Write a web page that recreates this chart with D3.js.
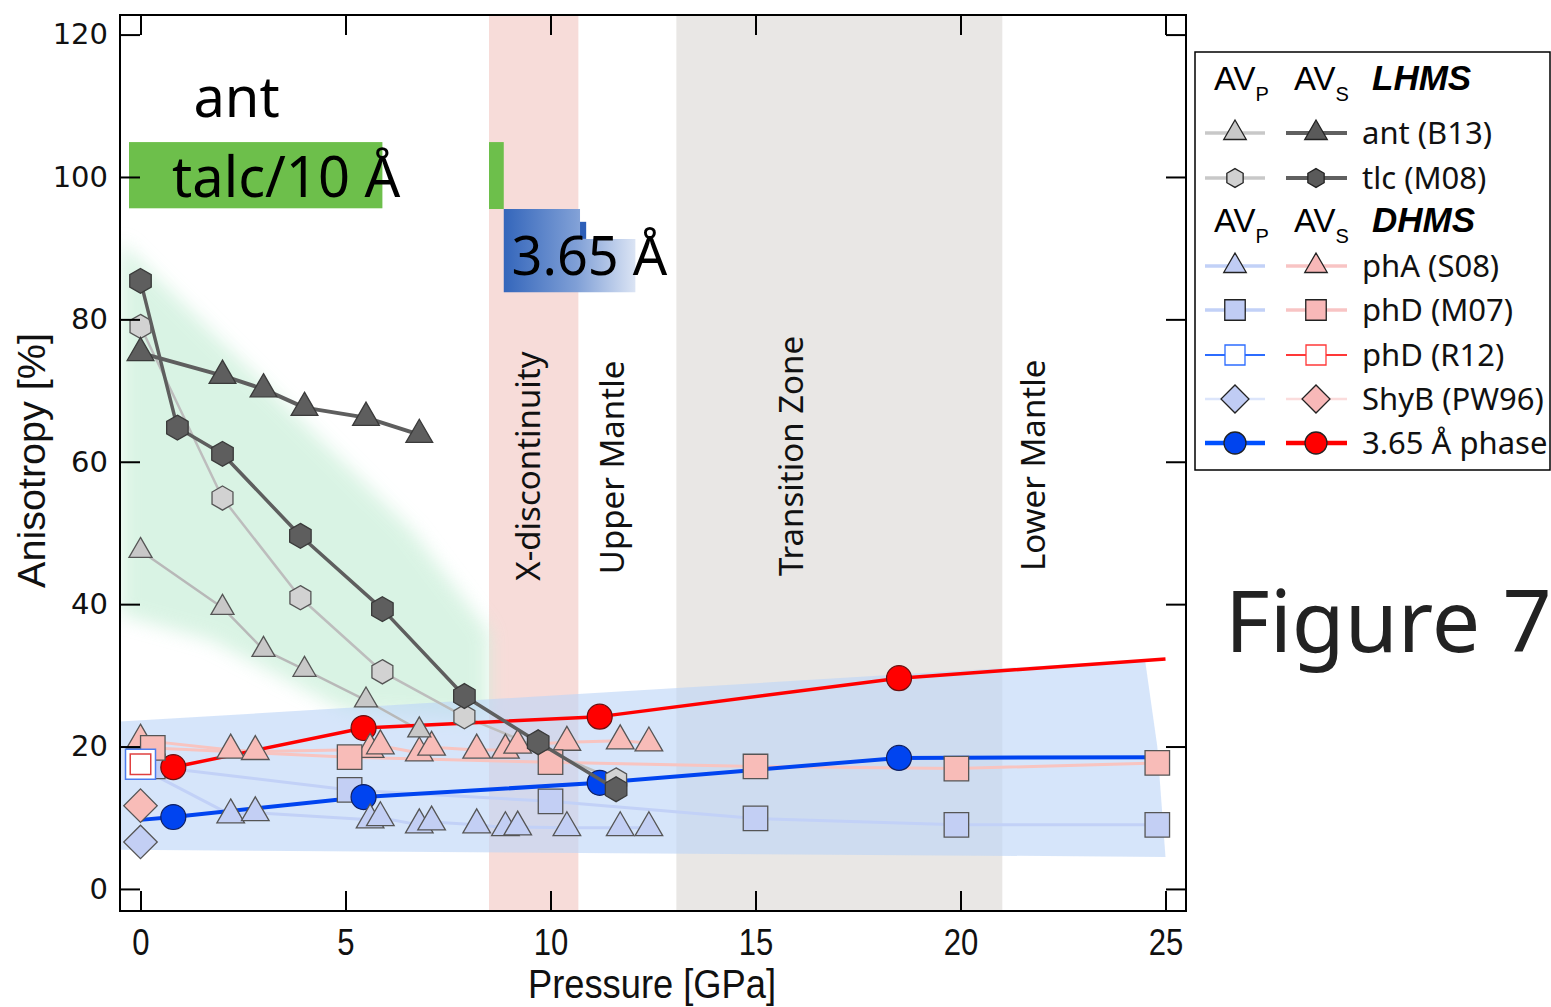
<!DOCTYPE html>
<html>
<head>
<meta charset="utf-8">
<script src="https://cdn.jsdelivr.net/npm/d3@7"></script>
<style>
  body { margin: 0; background: #fff; }
  svg { display: block; }
</style>
</head>
<body>
<div class="chart"></div>
<script>

const FRAME_WIDTH = 1551;
const FRAME_HEIGHT = 1007;
const PLOT = {left: 120, right: 1186, top: 15, bottom: 911};

// ---- data (pressure in GPa, anisotropy in %) ----
const X_TICKS = [0, 5, 10, 15, 20, 25];
const Y_TICKS = [0, 20, 40, 60, 80, 100, 120];

// LHMS
const ANT_P   = [0, 2, 3, 4, 5.5, 6.8];
const ANT_AVP = [47.5, 39.5, 33.6, 30.8, 26.5, 22.3];
const ANT_AVS = [75.3, 72.1, 70.2, 67.6, 66.2, 63.8];
const TLC_P   = [0, 0.9, 2, 3.9, 5.9, 7.9, 9.7, 11.6];
const TLC_AVS = [85.4, 64.8, 61.1, 49.6, 39.3, 27.1, 20.6, 14.0];
const TLC_AVP_P = [0, 2, 3.9, 5.9, 7.9, 11.6];
const TLC_AVP   = [79.0, 54.9, 40.9, 30.5, 24.2, 15.3];

// DHMS
const PHA_P   = [0, 2.2, 2.8, 5.6, 5.85, 6.8, 7.1, 8.2, 8.9, 9.2, 10.4, 11.7, 12.4];
const PHA_AVS = [20.9, 19.5, 19.3, 19.6, 20.1, 19.1, 19.9, 19.5, 19.5, 20.2, 20.6, 20.8, 20.5];
const PHA_AVP = [17.0, 10.4, 10.7, 9.7, 10.0, 9.0, 9.4, 9.0, 8.6, 8.7, 8.6, 8.6, 8.6];
const PHD_P   = [0.3, 5.1, 10, 15, 19.9, 24.8];
const PHD_AVS = [19.8, 18.5, 17.8, 17.2, 16.9, 17.7];
const PHD_AVP = [17.2, 13.9, 12.3, 9.9, 9.0, 9.0];
const R12_P = [0], R12_AVP = [17.5], R12_AVS = [17.5];
const SHYB_P = [0], SHYB_AVP = [6.6], SHYB_AVS = [11.7];
const A365_P   = [0.8, 5.44, 11.2, 18.5];
const A365_AVS = [17.1, 22.6, 24.2, 29.6];
const A365_AVP = [10.1, 12.9, 14.9, 18.4];
const FIT_P   = [0, 0.8, 5.44, 11.2, 18.5, 25];
const FIT_AVS = [16.3, 17.1, 22.6, 24.2, 29.6, 32.3];
const FIT_AVP = [9.7, 10.1, 12.9, 14.9, 18.4, 18.5];

// shaded fields
const GREEN_P = [-0.5, 6.6, 8.5, 8.5, 5.0, 1.7, -0.5];
const GREEN_A = [91, 50.5, 36, 23.5, 25, 35, 38.5];
const BLUE_P = [-0.5, 24.5, 24.8, 25, -0.5];
const BLUE_A = [23.5, 32.2, 20, 4.5, 5.5];
// depth regions
const BANDS = [
  {name: "X-discontinuity", from: 8.5, to: 10.68, color: "#f7dcd9"},
  {name: "Transition Zone", from: 13.07, to: 21.02, color: "#e9e7e5"}
];
const REGION_LABELS = ["X-discontinuity", "Upper Mantle", "Transition Zone", "Lower Mantle"];
const REGION_LABEL_P = [9.75, 11.8, 16.15, 22.05];
const REGION_LABEL_A = [59.4, 59.2, 60.8, 59.5];

const zip = (xs, ys) => xs.map((x, i) => ({p: x, a: ys[i]}));

const SVG = d3.select(".chart").append("svg")
  .attr("width", FRAME_WIDTH)
  .attr("height", FRAME_HEIGHT);

const X_SCALE = d3.scaleLinear().domain([-0.5, 25.5]).range([PLOT.left, PLOT.right]);
const Y_SCALE = d3.scaleLinear().domain([-3.1, 122.75]).range([PLOT.bottom, PLOT.top]);

const defs = SVG.append("defs");
defs.append("filter").attr("id", "soft")
  .attr("x", "-20%").attr("y", "-20%").attr("width", "140%").attr("height", "140%")
  .append("feGaussianBlur").attr("stdDeviation", 9);
const grad = defs.append("linearGradient").attr("id", "bluegrad");
grad.append("stop").attr("offset", "0%").attr("stop-color", "#3466bb");
grad.append("stop").attr("offset", "55%").attr("stop-color", "#7f9fd6");
grad.append("stop").attr("offset", "100%").attr("stop-color", "#dbe4f4");
defs.append("clipPath").attr("id", "plotclip").append("rect")
  .attr("x", PLOT.left).attr("y", PLOT.top)
  .attr("width", PLOT.right - PLOT.left).attr("height", PLOT.bottom - PLOT.top);

const plot = SVG.append("g").attr("clip-path", "url(#plotclip)");

// bands
plot.selectAll(".band").data(BANDS).enter().append("rect")
  .attr("x", d => X_SCALE(d.from))
  .attr("width", d => X_SCALE(d.to) - X_SCALE(d.from))
  .attr("y", PLOT.top).attr("height", PLOT.bottom - PLOT.top)
  .attr("fill", d => d.color);

const area = d3.line().x(d => X_SCALE(d.p)).y(d => Y_SCALE(d.a));

plot.append("path")
  .attr("d", area(zip(GREEN_P, GREEN_A)) + "Z")
  .attr("fill", "#cdf0db").attr("opacity", 0.75)
  .attr("filter", "url(#soft)");

plot.append("path")
  .attr("d", area(zip(BLUE_P, BLUE_A)) + "Z")
  .attr("fill", "#bdd5f7").attr("opacity", 0.62);

// region labels
REGION_LABELS.forEach((t, i) => {
  plot.append("text")
    .attr("transform", "translate(" + X_SCALE(REGION_LABEL_P[i]) + "," + Y_SCALE(REGION_LABEL_A[i]) + ") rotate(-90)")
    .attr("text-anchor", "middle")
    .attr("font-family", "Noto Sans, Open Sans, sans-serif")
    .attr("font-size", 33)
    .attr("fill", "#111")
    .text(t);
});

// annotation boxes
plot.append("rect")
  .attr("x", X_SCALE(-0.28)).attr("y", Y_SCALE(104.9))
  .attr("width", X_SCALE(5.9) - X_SCALE(-0.28)).attr("height", Y_SCALE(95.6) - Y_SCALE(104.9))
  .attr("fill", "#6dbf4b");
plot.append("rect")
  .attr("x", X_SCALE(8.5)).attr("y", Y_SCALE(104.9))
  .attr("width", X_SCALE(8.86) - X_SCALE(8.5)).attr("height", Y_SCALE(95.5) - Y_SCALE(104.9))
  .attr("fill", "#6dbf4b");
plot.append("path")
  .attr("d", area(zip([8.86, 10.72, 10.72, 12.07, 12.07, 8.86], [95.5, 95.5, 91.3, 91.3, 83.8, 83.8])) + "Z")
  .attr("fill", "url(#bluegrad)");
plot.append("rect")
  .attr("x", X_SCALE(10.72)).attr("y", Y_SCALE(93.7))
  .attr("width", X_SCALE(10.87) - X_SCALE(10.72)).attr("height", Y_SCALE(91.3) - Y_SCALE(93.7))
  .attr("fill", "#2d5fb8");

const bigText = (txt, p, a) => SVG.append("text")
  .attr("x", X_SCALE(p)).attr("y", Y_SCALE(a))
  .attr("font-family", "Noto Sans, Open Sans, sans-serif")
  .attr("font-size", 56).attr("fill", "#000").text(txt);
bigText("ant", 1.29, 108.4);
bigText("talc/10 Å", 0.77, 97.2);
SVG.append("text")
  .attr("x", X_SCALE(9.05)).attr("y", Y_SCALE(86.2))
  .attr("font-family", "Noto Sans, Open Sans, sans-serif")
  .attr("font-size", 54).attr("fill", "#000").text("3.65 Å");

// ---- markers ----
const HEX = {
  draw(ctx, size) {
    const r = Math.sqrt(size * 2 / (3 * Math.sqrt(3)));
    ctx.moveTo(0, -r);
    for (let i = 1; i < 6; i++) {
      const ang = -Math.PI / 2 + i * Math.PI / 3;
      ctx.lineTo(r * Math.cos(ang), r * Math.sin(ang));
    }
    ctx.closePath();
  }
};
const SHAPES = {
  tri: d3.symbolTriangle, sq: d3.symbolSquare, circ: d3.symbolCircle,
  hex: HEX, dia: d3.symbolSquare
};

function drawLine(g, ps, as, color, width) {
  g.append("path")
    .attr("d", area(zip(ps, as)))
    .attr("fill", "none").attr("stroke", color)
    .attr("stroke-width", width).attr("stroke-linejoin", "round");
}
function drawMarks(g, ps, as, shape, size, fill, stroke, sw) {
  g.selectAll(null).data(zip(ps, as)).enter().append("path")
    .attr("d", d3.symbol().type(SHAPES[shape]).size(size))
    .attr("transform", d => "translate(" + X_SCALE(d.p) + "," + Y_SCALE(d.a) + ")" + (shape === "dia" ? " rotate(45)" : ""))
    .attr("fill", fill).attr("stroke", stroke).attr("stroke-width", sw || 1.3);
}

const C = {
  triLt: "#c8c8c8", hexLt: "#d2d2d2",
  ltBlue: "#c3cff4", ltPink: "#f8bcb8", lineBlue: "#c2d1f7", linePink: "#f8c4c0",
  blue: "#0044f0", red: "#ff0000", dkGray: "#5e5e5e", edge: "#555"
};

// lines
drawLine(plot, PHA_P, PHA_AVP, C.lineBlue, 3);
drawLine(plot, PHD_P, PHD_AVP, C.lineBlue, 3);
drawLine(plot, PHA_P, PHA_AVS, C.linePink, 3);
drawLine(plot, PHD_P, PHD_AVS, C.linePink, 3);
drawLine(plot, ANT_P, ANT_AVP, "#b8b8b8", 2.5);
drawLine(plot, TLC_AVP_P, TLC_AVP, "#bdbdbd", 2.5);
drawLine(plot, FIT_P, FIT_AVS, C.red, 3.5);
drawLine(plot, FIT_P, FIT_AVP, C.blue, 4);

// markers
drawMarks(plot, PHD_P, PHD_AVP, "sq", 600, C.ltBlue, C.edge);
drawMarks(plot, A365_P, A365_AVS, "circ", 490, C.red, "#6a1010", 1.2);
drawMarks(plot, A365_P, A365_AVP, "circ", 490, C.blue, "#102060", 1.2);
drawMarks(plot, PHA_P, PHA_AVP, "tri", 330, C.ltBlue, C.edge);
drawMarks(plot, PHA_P, PHA_AVS, "tri", 330, C.ltPink, C.edge);
drawMarks(plot, PHD_P, PHD_AVS, "sq", 600, C.ltPink, C.edge);
drawMarks(plot, R12_P, R12_AVP, "sq", 900, "#fff", "#4c7df0", 1.5);
drawMarks(plot, R12_P, R12_AVS, "sq", 420, "#fff", "#e04040", 1.5);
drawMarks(plot, SHYB_P, SHYB_AVP, "dia", 560, C.ltBlue, C.edge);
drawMarks(plot, SHYB_P, SHYB_AVS, "dia", 560, C.ltPink, C.edge);
drawMarks(plot, ANT_P, ANT_AVP, "tri", 230, C.triLt, C.edge);
drawMarks(plot, TLC_AVP_P, TLC_AVP, "hex", 380, C.hexLt, C.edge);
drawLine(plot, ANT_P, ANT_AVS, C.dkGray, 4);
drawLine(plot, TLC_P, TLC_AVS, C.dkGray, 3.5);
drawMarks(plot, ANT_P, ANT_AVS, "tri", 310, C.dkGray, "#3a3a3a");
drawMarks(plot, TLC_P, TLC_AVS, "hex", 400, C.dkGray, "#3a3a3a");

// ---- axes ----
const axisStyle = g => {
  g.select(".domain").remove();
  g.selectAll(".tick line").attr("stroke", "#000").attr("stroke-width", 2);
};
SVG.append("g")
  .attr("transform", "translate(" + PLOT.left + ",0)")
  .call(d3.axisLeft(Y_SCALE).tickValues(Y_TICKS).tickSize(-20).tickPadding(12))
  .call(axisStyle)
  .selectAll("text")
    .attr("font-family", "DejaVu Sans, sans-serif")
    .attr("font-size", 29).attr("fill", "#111");
SVG.append("g")
  .attr("transform", "translate(" + PLOT.right + ",0)")
  .call(d3.axisRight(Y_SCALE).tickValues(Y_TICKS).tickSize(-20).tickFormat(""))
  .call(axisStyle);
SVG.append("g")
  .attr("transform", "translate(0," + PLOT.top + ")")
  .call(d3.axisTop(X_SCALE).tickValues(X_TICKS).tickSize(-20).tickFormat(""))
  .call(axisStyle);
SVG.append("g")
  .attr("transform", "translate(0," + PLOT.bottom + ")")
  .call(d3.axisBottom(X_SCALE).tickValues(X_TICKS).tickSize(-20).tickPadding(18))
  .call(axisStyle)
  .selectAll("text")
    .attr("font-family", "Liberation Sans, Arial, sans-serif")
    .attr("font-size", 37).attr("fill", "#111")
    .attr("transform", "scale(0.84,1)");

SVG.append("rect")
  .attr("x", PLOT.left).attr("y", PLOT.top)
  .attr("width", PLOT.right - PLOT.left).attr("height", PLOT.bottom - PLOT.top)
  .attr("fill", "none").attr("stroke", "#000").attr("stroke-width", 2);

SVG.append("text")
  .attr("x", 528).attr("y", 998)
  .attr("font-family", "Liberation Sans, Arial, sans-serif")
  .attr("font-size", 40).attr("fill", "#111")
  .attr("textLength", 248).attr("lengthAdjust", "spacingAndGlyphs")
  .text("Pressure [GPa]");
SVG.append("text")
  .attr("transform", "translate(45,588) rotate(-90)")
  .attr("font-family", "Liberation Sans, Arial, sans-serif")
  .attr("font-size", 38).attr("fill", "#111")
  .attr("textLength", 255).attr("lengthAdjust", "spacingAndGlyphs")
  .text("Anisotropy [%]");

// ---- legend ----
const LEG = SVG.append("g");
LEG.append("rect")
  .attr("x", 1195).attr("y", 52).attr("width", 355).attr("height", 418)
  .attr("fill", "#fff").attr("stroke", "#000").attr("stroke-width", 1.5);

function header(yb, title) {
  [["AV", "P", 1214], ["AV", "S", 1294]].forEach(h => {
    const t = LEG.append("text").attr("x", h[2]).attr("y", yb)
      .attr("font-family", "Liberation Sans, Arial, sans-serif")
      .attr("font-size", 33).attr("fill", "#000").text(h[0]);
    t.append("tspan").attr("dy", 11).attr("font-size", 20).text(h[1]);
  });
  LEG.append("text").attr("x", 1372).attr("y", yb)
    .attr("font-family", "Liberation Sans, Arial, sans-serif")
    .attr("font-size", 35).attr("font-weight", "bold").attr("font-style", "italic")
    .attr("fill", "#000").text(title);
}
header(90, "LHMS");
header(232, "DHMS");

const LEG_ROWS = [
  {y: 133, label: "ant (B13)", shape: "tri", size: 220,
   p: {line: "#c8c8c8", lw: 3.5, fill: "#c8c8c8"}, s: {line: "#606060", lw: 4, fill: "#5a5a5a"}},
  {y: 178, label: "tlc (M08)", shape: "hex", size: 230,
   p: {line: "#c8c8c8", lw: 3.5, fill: "#d0d0d0"}, s: {line: "#606060", lw: 4, fill: "#5a5a5a"}},
  {y: 266, label: "phA (S08)", shape: "tri", size: 220,
   p: {line: "#c2d1f7", lw: 3.5, fill: "#c0ccf4"}, s: {line: "#f8c4c4", lw: 3.5, fill: "#f8b8b8"}},
  {y: 310, label: "phD (M07)", shape: "sq", size: 420,
   p: {line: "#c2d1f7", lw: 3.5, fill: "#c0ccf4"}, s: {line: "#f8c4c4", lw: 3.5, fill: "#f8b8b8"}},
  {y: 355, label: "phD (R12)", shape: "sq", size: 400,
   p: {line: "#2c6cff", lw: 2, fill: "#fff", stroke: "#2c6cff"}, s: {line: "#ff3838", lw: 2, fill: "#fff", stroke: "#ff3838"}},
  {y: 399, label: "ShyB (PW96)", shape: "dia", size: 390,
   p: {line: "#dce5fb", lw: 2.5, fill: "#c0ccf4"}, s: {line: "#fbdcdc", lw: 2.5, fill: "#f8b8b8"}},
  {y: 443, label: "3.65 Å phase", shape: "circ", size: 380,
   p: {line: "#0050ff", lw: 4.5, fill: "#0044ee"}, s: {line: "#ff0000", lw: 4.5, fill: "#ff0000"}}
];
LEG_ROWS.forEach(r => {
  [[r.p, 1205, 1265, 1235], [r.s, 1286, 1347, 1316]].forEach(c => {
    const st = c[0];
    LEG.append("line").attr("x1", c[1]).attr("x2", c[2]).attr("y1", r.y).attr("y2", r.y)
      .attr("stroke", st.line).attr("stroke-width", st.lw);
    LEG.append("path")
      .attr("d", d3.symbol().type(SHAPES[r.shape]).size(r.size))
      .attr("transform", "translate(" + c[3] + "," + r.y + ")" + (r.shape === "dia" ? " rotate(45)" : ""))
      .attr("fill", st.fill).attr("stroke", st.stroke || "#222").attr("stroke-width", 1.3);
  });
  LEG.append("text").attr("x", 1362).attr("y", r.y + 11)
    .attr("font-family", "Noto Sans, Open Sans, sans-serif")
    .attr("font-size", 31).attr("fill", "#111").text(r.label);
});

SVG.append("text")
  .attr("x", 1225).attr("y", 652)
  .attr("font-family", "Noto Sans, Open Sans, sans-serif")
  .attr("font-size", 86).attr("fill", "#222")
  .text("Figure 7");

</script>
</body>
</html>
